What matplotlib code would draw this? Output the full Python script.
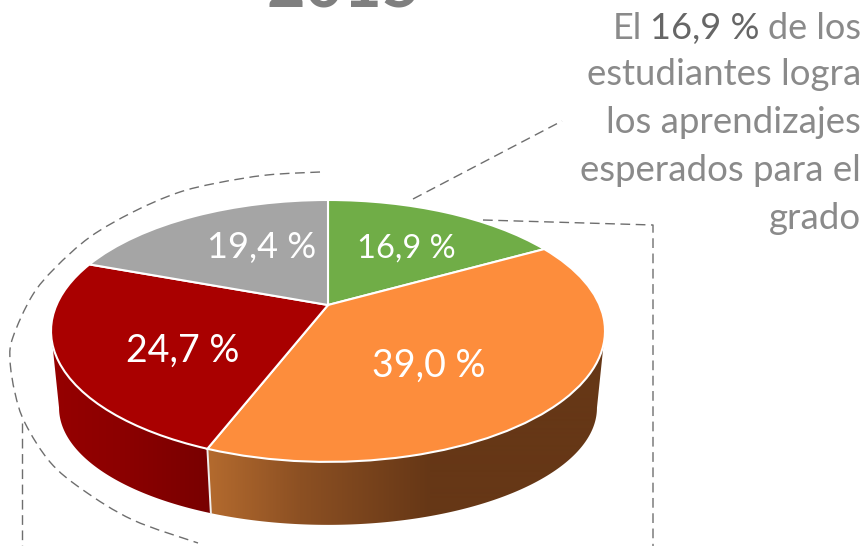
import numpy as np
import matplotlib
matplotlib.use("Agg")
import matplotlib.pyplot as plt
from matplotlib.transforms import Transform
from matplotlib.path import Path
from matplotlib.patches import PathPatch, Polygon
from matplotlib.colors import to_rgb

# ---- data ----
categories = ["Satisfactorio", "En proceso", "En inicio", "Previo al inicio"]
values = [16.9, 39.0, 24.7, 19.4]
labels = ["16,9 %", "39,0 %", "24,7 %", "19,4 %"]
colors = ["#70AD47", "#FD8D3C", "#A90000", "#A5A5A5"]
title_text = "2015"
note_lines = ["estudiantes logra", "los aprendizajes", "esperados para el", "grado"]

W, H = 866, 546
CX, CY, RX, RY, K = 328.0, 305.0, 271.5, 125.8, 0.198
GREY = "#8A8A8A"
FONT = "Lato"


class Perspective(Transform):
    input_dims = output_dims = 2

    def transform_non_affine(self, xy):
        xy = np.asarray(xy, float)
        w = 1 + K * xy[:, 1]
        return np.column_stack([CX + RX * xy[:, 0] / w, CY - RY * xy[:, 1] / w])


def lower_rim(p):
    """Rim of the disc's underside, for points on the top rim."""
    return np.column_stack([CX + (p[:, 0] - CX) * 0.971, 525 - (462 - p[:, 1]) * 0.894])


fig = plt.figure(figsize=(W / 100, H / 100), dpi=100)
ax = fig.add_axes([0, 0, 1, 1])

wedges, _ = ax.pie(values, colors=colors, startangle=90, counterclock=False, radius=1.0)
ax.set_aspect("auto")
ax.set_xlim(0, W)
ax.set_ylim(H, 0)
ax.axis("off")

persp = Perspective()
for w in wedges:
    w.set_transform(persp + ax.transData)
    w.set_edgecolor("white")
    w.set_linewidth(1.5)
    w.set_zorder(5)
    w.set_clip_on(False)

# side wall: one horizontal gradient per slice, clipped to the wall's outline
side_stops = {
    1: [(210, "#B36A2E"), (300, "#8C5023"), (430, "#663716"), (610, "#663716")],
    2: [(50, "#960000"), (120, "#8C0000"), (212, "#780000")],
}
side_limits = {1: (101.4, None), 2: (None, 258.6)}
cum = np.cumsum([0] + values) / 100 * 360
project = persp.transform_non_affine
for i, stops in side_stops.items():
    a0 = side_limits[i][0] if side_limits[i][0] is not None else cum[i]
    a1 = side_limits[i][1] if side_limits[i][1] is not None else cum[i + 1]
    th = np.radians(np.linspace(a0, a1, 200))
    top = project(np.column_stack([np.sin(th), np.cos(th)]))
    low = lower_rim(top)
    outline = np.vstack([top, low[::-1]])
    poly = Polygon(outline, closed=True, facecolor="none", edgecolor="none", zorder=2)
    ax.add_patch(poly)
    xs = np.arange(0, W, 1.0)
    rgb = np.array([to_rgb(s[1]) for s in stops])
    stop_x = [s[0] for s in stops]
    grad = np.stack([np.interp(xs, stop_x, rgb[:, c]) for c in range(3)], axis=-1)[None, :, :]
    im = ax.imshow(grad, extent=(0, W, H, 0), aspect="auto", zorder=2, interpolation="bilinear")
    im.set_clip_path(poly)
ax.set_xlim(0, W)
ax.set_ylim(H, 0)

# seam between orange and red wall
th = np.radians(cum[2])
seam_top = project(np.array([[np.sin(th), np.cos(th)]]))
seam_low = lower_rim(seam_top)
ax.plot([seam_top[0, 0], seam_low[0, 0]], [seam_top[0, 1], seam_low[0, 1]],
        color="#EFEFEF", lw=1.4, zorder=3)

# dashed guides
dash = dict(color="#6E6E6E", lw=1.0, dashes=(7, 4), zorder=1)
ax.plot([413, 562], [199, 121], **dash)
ax.plot([483, 653, 653], [220, 225, 546], **dash)
ax.plot([22, 22], [423, 546], **dash)
arc = np.array([[320, 172], [267, 175], [217, 183], [177, 193], [133, 212], [90, 237],
                [55, 268], [32, 296], [13, 337], [10, 360], [15, 393], [25, 423],
                [50, 462], [83, 490], [133, 520], [198, 543]], float)
verts, codes = [arc[0]], [Path.MOVETO]
for i in range(len(arc) - 1):
    p0 = arc[max(i - 1, 0)]
    p1, p2 = arc[i], arc[i + 1]
    p3 = arc[min(i + 2, len(arc) - 1)]
    verts += [p1 + (p2 - p0) / 6, p2 - (p3 - p1) / 6, p2]
    codes += [Path.CURVE4] * 3
ax.add_patch(PathPatch(Path(verts, codes), fill=False, edgecolor="#6E6E6E", lw=1.0,
                       linestyle=(0, (7, 4)), zorder=1))

# texts
label_pos = [(406, 258), (429, 377), (183, 362), (262, 258)]
label_sizes = [23.5, 27, 27, 26]
for (x, y), s, fs in zip(label_pos, labels, label_sizes):
    ax.text(x, y, s, color="white", fontsize=fs, family=FONT, fontweight="normal",
            ha="center", va="baseline", zorder=8)

ax.text(344, 7, title_text, color="#7F7F7F", fontsize=48, family=FONT, fontweight="bold",
        ha="center", va="baseline", zorder=8, clip_on=True)

for x, s, col, fw in [(861, "de los", GREY, "normal"), (759, "16,9 %", "#666666", "normal"),
                      (642, "El", GREY, "normal")]:
    ax.text(x, 39, s, color=col, fontsize=26, family=FONT, fontweight=fw,
            ha="right", va="baseline", zorder=8)
for y, s in zip([85, 133, 181, 229], note_lines):
    ax.text(861, y, s, color=GREY, fontsize=26.4, family=FONT, fontweight="normal",
            ha="right", va="baseline", zorder=8)

fig.savefig("out.png", dpi=100, facecolor="white")
